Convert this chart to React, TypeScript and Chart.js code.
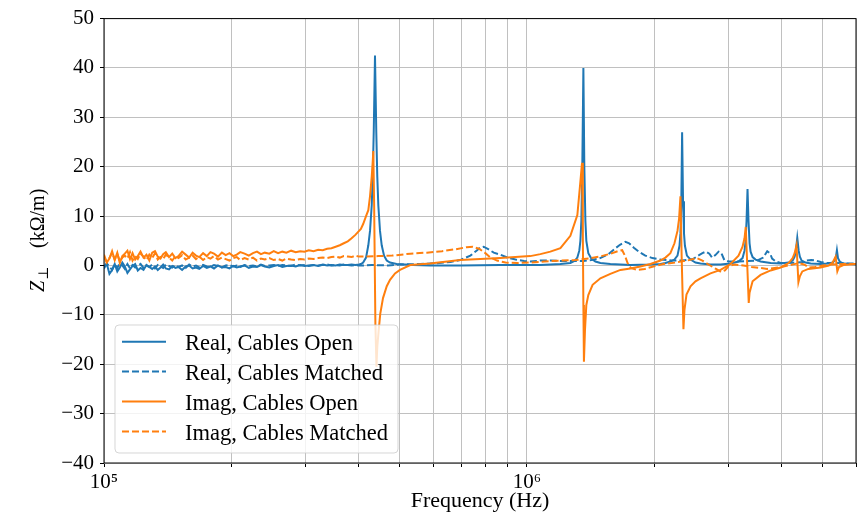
import React, { useEffect, useRef } from 'react';
import { Chart, registerables } from 'chart.js';

Chart.register(...registerables);

// ---------- data (frequency in kHz, impedance in kΩ/m) ----------
const lowFreqKHz = [
  100, 101.5, 103, 104.5, 106, 107.5, 109, 110.5, 112, 113.6,
  115.2, 116.8, 118.5, 120.2, 122, 124, 126, 128, 130, 132,
  134, 136, 138, 140, 142.5, 145, 147.5, 150, 153, 156,
  159, 162, 165, 168, 171.5, 175, 178.5, 182, 186, 190,
  194, 198, 202, 206, 210, 215, 220, 225, 230, 235,
  240, 246, 252, 258, 264, 270, 277, 284, 291, 298,
  305, 313, 321, 329, 337, 345, 353, 361, 369, 377,
  385, 393, 401,
];

const realOpenLow = [
  -0.6, 0.4, -1.7, -0.9, 0.3, -1.2, -0.4, 0.6, -0.2, -1.5,
  -0.8, -0.1, 0.3, -1.0, -0.5, -0.9, 0.1, -0.3, -0.7, -0.2,
  -0.9, -0.4, 0.2, -0.6, -0.8, -0.1, -0.5, -0.3, -0.9, -0.2,
  0.0, -0.6, -0.4, -0.7, -0.1, -0.5, -0.2, -0.6, 0.0, -0.4,
  -0.3, -0.6, -0.1, -0.4, -0.2, 0.0, -0.5, -0.2, -0.3, 0.1,
  -0.2, -0.4, -0.1, 0.1, -0.3, -0.1, 0.0, -0.2, 0.1, -0.1,
  0.0, 0.1, -0.1, 0.2, 0.0, 0.1, 0.0, 0.2, 0.1, 0.1,
  0.2, 0.1, 0.2,
];

const imagOpenLow = [
  2.2, 0.6, 1.4, 2.9, 1.1, 2.6, 0.5, 1.9, 2.4, 3.0,
  1.3, 2.5, 1.2, 1.9, 2.8, 1.6, 2.2, 1.0, 2.6, 2.9,
  1.8, 1.4, 2.3, 2.7, 1.7, 2.4, 1.5, 1.9, 2.8, 2.2,
  1.6, 2.6, 2.0, 1.7, 2.5, 1.9, 2.7, 2.4, 1.8, 2.6,
  2.1, 2.5, 1.9, 2.2, 2.7, 2.4, 2.0, 2.5, 2.8, 2.3,
  2.6, 2.4, 2.9, 2.5, 2.8, 2.6, 3.0, 2.7, 2.9, 2.8,
  3.1, 2.9, 3.2, 3.1, 3.4, 3.5, 3.8, 4.1, 4.5, 4.9,
  5.5, 6.2, 7.0,
];

const realMatchedLow = [
  -0.3, 0.4, -0.2, -0.9, 0.2, -0.5, 0.5, 0.0, -0.7, 0.3,
  -0.6, 0.1, -0.4, -0.1, 0.3, -0.5, 0.0, -0.3, 0.2, -0.6,
  0.1, -0.2, -0.5, 0.2, -0.1, -0.4, 0.1, -0.3, 0.0, -0.5,
  0.2, -0.2, 0.0, -0.4, 0.1, -0.2, -0.3, 0.1, -0.1, -0.4,
  0.0, 0.1, -0.2, 0.0, -0.3, 0.1, -0.1, 0.0, -0.2, 0.2,
  -0.1, 0.0, 0.1, -0.1, 0.1, 0.0, -0.1, 0.2, 0.0, 0.1,
  -0.1, 0.1, 0.0, 0.1, 0.2, 0.0, 0.1, 0.0, 0.2, 0.1,
  0.0, 0.1, 0.0,
];

const imagMatchedLow = [
  1.8, 0.7, 1.5, 2.6, 1.2, 2.3, 0.9, 1.6, 2.0, 1.4,
  2.7, 1.0, 1.9, 1.3, 2.4, 1.8, 1.1, 2.2, 1.5, 2.5,
  1.2, 1.7, 1.3, 2.2, 1.6, 1.0, 1.9, 1.5, 2.1, 1.2,
  1.6, 2.0, 1.3, 1.8, 1.1, 1.7, 1.4, 1.9, 1.2, 1.6,
  1.3, 1.0, 1.5, 1.7, 1.1, 1.5, 1.2, 1.6, 1.0, 1.4,
  1.2, 1.5, 1.1, 1.3, 1.0, 1.4, 1.2, 1.1, 1.3, 1.2,
  1.4, 1.3, 1.5, 1.6, 1.5, 1.7, 1.8, 1.6, 1.9, 1.8,
  1.7, 2.0, 1.8,
];

const realOpenHigh: [number, number][] = [
  [405, 0.3], [410, 0.6], [416.5, 1.6], [421.7, 4.1], [425.6, 7.0], [429.6, 12.2],
  [431.9, 18], [434.3, 27], [437.3, 42.5], [440.4, 27], [442.8, 18], [445.3, 12.2],
  [449.4, 7.0], [453.6, 4.1], [459.4, 2.0], [466.2, 1.0], [474.6, 0.6], [492, 0.3],
  [538, 0.1], [590, 0.0], [695, 0.0], [865, 0.1], [1076, 0.1], [1200, 0.3],
  [1267, 0.5], [1295, 0.9], [1316, 1.6], [1330, 3.0], [1338, 5.0], [1345, 9.0],
  [1352, 20], [1360, 40], [1367, 20], [1375, 9.0], [1382, 5.0], [1397, 2.5],
  [1420, 1.4], [1452, 0.8], [1492, 0.5], [1575, 0.3], [1757, 0.1], [1959, 0.2],
  [2069, 0.3], [2126, 0.5], [2184, 0.8], [2233, 1.2], [2270, 2.0], [2295, 4.0],
  [2307, 6.5], [2318, 13], [2328, 27], [2340, 13], [2352, 6.5], [2364, 4.0],
  [2390, 2.0], [2437, 1.2], [2504, 0.6], [2573, 0.4], [2717, 0.2], [2870, 0.2],
  [3030, 0.4], [3165, 0.8], [3235, 1.5], [3270, 3.0], [3288, 4.8], [3306, 9.0],
  [3324, 15.5], [3342, 9.0], [3361, 4.5], [3380, 2.8], [3417, 1.7], [3473, 1.2],
  [3569, 0.8], [3770, 0.5], [3981, 0.4], [4158, 0.6], [4250, 1.0], [4296, 1.8],
  [4325, 3.0], [4358, 5.6], [4391, 3.0], [4420, 1.8], [4463, 1.0], [4561, 0.6],
  [4688, 0.4], [4950, 0.3], [5171, 0.4], [5284, 0.6], [5342, 1.0], [5380, 1.8],
  [5408, 3.1], [5440, 1.5], [5490, 0.8], [5600, 0.4], [5826, 0.3], [6000, 0.2],
];

const imagOpenHigh: [number, number][] = [
  [405, 7.4], [410, 8.4], [416.5, 10.0], [421.7, 11.2], [425.6, 14.0], [429.6, 18.0],
  [431.9, 21.0], [433.3, 23.2], [435.3, 12], [438.3, -12], [440.8, -20.5], [442.8, -16.5],
  [446, -13.3], [450, -9.8], [456.8, -6.6], [466.2, -4.2], [474.6, -2.9], [487.7, -1.6],
  [501, -0.9], [530, 0.1], [590, 0.4], [695, 1.1], [865, 1.5], [1018, 1.9],
  [1076, 2.3], [1136, 2.8], [1200, 3.5], [1267, 6.0], [1316, 10.2], [1338, 17.0],
  [1350, 20.8], [1356, 6], [1360, -8], [1364, -19.5], [1372, -13], [1382, -8.0],
  [1397, -6.0], [1430, -3.9], [1492, -2.6], [1575, -1.7], [1664, -0.9], [1757, -0.6],
  [1855, -0.2], [1959, 0.3], [2069, 1.0], [2126, 1.6], [2184, 2.5], [2233, 4.5],
  [2270, 7.0], [2290, 9.5], [2307, 14.0], [2322, 2], [2345, -12.9], [2358, -9.0],
  [2384, -5.9], [2437, -4.2], [2504, -3.2], [2573, -2.6], [2717, -1.6], [2870, -0.9],
  [3030, 0.3], [3165, 2.0], [3235, 3.8], [3270, 5.5], [3292, 7.8], [3346, -7.6],
  [3361, -5.5], [3417, -3.2], [3569, -1.9], [3770, -1.0], [3981, -0.4], [4158, 0.5],
  [4250, 1.5], [4296, 2.5], [4340, 4.1], [4385, -3.4], [4420, -2.2], [4480, -1.2],
  [4630, -0.7], [4950, -0.4], [5171, 0.0], [5284, 0.6], [5370, 1.8], [5420, -1.2],
  [5470, -0.3], [5600, 0.1], [6000, 0.3],
];

const realMatchedHigh: [number, number][] = [
  [415, 0.0], [430, 0.1], [470, 0.0], [500, 0.2], [560, 0.3], [620, 0.5],
  [660, 0.7], [695, 1.1], [735, 2.0], [760, 3.0], [775, 3.6], [790, 3.8],
  [810, 3.3], [835, 2.6], [865, 2.2], [900, 1.6], [940, 1.2], [985, 0.9],
  [1018, 0.8], [1076, 1.0], [1136, 1.0], [1200, 0.9], [1270, 0.9], [1360, 0.9],
  [1420, 1.1], [1490, 1.5], [1560, 2.3], [1620, 3.5], [1660, 4.2], [1710, 4.8],
  [1745, 4.5], [1790, 3.6], [1840, 2.8], [1905, 2.0], [1980, 1.5], [2070, 1.2],
  [2200, 1.0], [2330, 1.0], [2470, 1.3], [2540, 2.0], [2600, 2.5], [2650, 2.8],
  [2700, 2.4], [2740, 1.6], [2790, 2.1], [2840, 2.8], [2880, 2.6], [2930, 1.1],
  [3000, 0.8], [3150, 0.8], [3330, 0.9], [3500, 1.0], [3620, 1.6], [3700, 2.9],
  [3760, 2.4], [3800, 1.4], [3880, 0.8], [3980, 0.5], [4150, 0.5], [4360, 0.6],
  [4500, 0.7], [4600, 1.0], [4700, 1.1], [4820, 1.0], [4950, 0.7], [5100, 0.5],
  [5400, 0.5], [5700, 0.4], [6000, 0.4],
];

const imagMatchedHigh: [number, number][] = [
  [415, 1.8], [445, 1.9], [480, 2.0], [530, 2.4], [580, 2.6], [630, 2.9],
  [680, 3.3], [720, 3.7], [745, 3.8], [770, 3.4], [795, 2.6], [820, 1.6],
  [850, 1.0], [890, 0.6], [950, 0.5], [1018, 0.6], [1100, 0.8], [1200, 1.0],
  [1300, 1.1], [1400, 1.4], [1500, 1.9], [1580, 2.4], [1640, 2.9], [1680, 3.1],
  [1705, 2.0], [1730, 0.5], [1760, -0.5], [1820, -0.9], [1900, -0.7], [1990, -0.2],
  [2100, 0.3], [2250, 0.6], [2420, 1.1], [2520, 1.5], [2600, 1.0], [2700, 0.1],
  [2800, -0.7], [2880, -1.3], [2940, -1.0], [3000, -0.1], [3100, 0.2], [3250, 0.0],
  [3400, -0.3], [3560, -0.5], [3700, -0.7], [3850, -0.5], [4000, -0.3], [4200, 0.1],
  [4400, 0.5], [4520, 0.2], [4650, -0.4], [4800, -0.3], [5000, 0.0], [5300, 0.2],
  [5600, 0.3], [6000, 0.3],
];

const seriesLabels = [
  'Real, Cables Open',
  'Real, Cables Matched',
  'Imag, Cables Open',
  'Imag, Cables Matched',
];

const xTickValues = [
  1e5, 2e5, 3e5, 4e5, 5e5, 6e5, 7e5, 8e5, 9e5,
  1e6, 2e6, 3e6, 4e6, 5e6, 6e6,
];
const xTickLabels: Record<number, string> = { 100000: '10\u2075', 1000000: '10\u2076' };
const yTickValues = [-40, -30, -20, -10, 0, 10, 20, 30, 40, 50];

const BLUE = '#1f77b4';
const ORANGE = '#ff7f0e';
const FONT = "'Liberation Serif', 'DejaVu Serif', serif";

function buildPoints(low: number[], high: [number, number][]) {
  const pts = lowFreqKHz.map((f, i) => ({ x: f * 1000, y: low[i] }));
  return pts.concat(high.map(([f, v]) => ({ x: f * 1000, y: v })));
}

const framePlugin = {
  id: 'frameAndLegend',
  afterDraw(chart: any) {
    const { ctx, chartArea } = chart;
    const { left, top, right, bottom } = chartArea;
    ctx.save();
    // frame
    ctx.strokeStyle = '#000';
    ctx.lineWidth = 1;
    ctx.strokeRect(left, top, right - left, bottom - top);

    // y-axis title with subscript
    ctx.fillStyle = '#000';
    ctx.translate(44, 292);
    ctx.rotate(-Math.PI / 2);
    ctx.textBaseline = 'alphabetic';
    ctx.textAlign = 'left';
    ctx.font = `italic 20px ${FONT}`;
    ctx.fillText('Z', 0, 0);
    const wz = ctx.measureText('Z').width;
    ctx.font = `14px 'DejaVu Serif', serif`;
    ctx.fillText('\u22A5', wz + 1, 4);
    ctx.font = `20px ${FONT}`;
    ctx.fillText('(k\u03A9/m)', 44, 0);
    ctx.restore();

    // legend
    ctx.save();
    const lx = 115, ly = 325, lw = 283, lh = 128, r = 4;
    ctx.beginPath();
    ctx.moveTo(lx + r, ly);
    ctx.lineTo(lx + lw - r, ly);
    ctx.arcTo(lx + lw, ly, lx + lw, ly + r, r);
    ctx.lineTo(lx + lw, ly + lh - r);
    ctx.arcTo(lx + lw, ly + lh, lx + lw - r, ly + lh, r);
    ctx.lineTo(lx + r, ly + lh);
    ctx.arcTo(lx, ly + lh, lx, ly + lh - r, r);
    ctx.lineTo(lx, ly + r);
    ctx.arcTo(lx, ly, lx + r, ly, r);
    ctx.closePath();
    ctx.fillStyle = 'rgba(255,255,255,0.8)';
    ctx.fill();
    ctx.strokeStyle = 'rgba(204,204,204,0.8)';
    ctx.lineWidth = 1;
    ctx.stroke();

    const rows = [341.7, 371.5, 401.5, 431.5];
    chart.data.datasets.forEach((ds: any, i: number) => {
      const y = rows[i];
      ctx.beginPath();
      ctx.setLineDash(ds.borderDash || []);
      ctx.strokeStyle = ds.borderColor;
      ctx.lineWidth = ds.borderWidth;
      ctx.moveTo(122, y);
      ctx.lineTo(166, y);
      ctx.stroke();
      ctx.setLineDash([]);
      ctx.fillStyle = '#000';
      ctx.font = `22.5px ${FONT}`;
      ctx.textAlign = 'left';
      ctx.textBaseline = 'alphabetic';
      ctx.fillText(ds.label, 185, y + 8);
    });
    ctx.restore();
  },
};

export default function App() {
  const canvasRef = useRef<HTMLCanvasElement | null>(null);

  useEffect(() => {
    if (!canvasRef.current) return;
    const lows = [realOpenLow, realMatchedLow, imagOpenLow, imagMatchedLow];
    const highs = [realOpenHigh, realMatchedHigh, imagOpenHigh, imagMatchedHigh];
    const colors = [BLUE, BLUE, ORANGE, ORANGE];
    const dashed = [false, true, false, true];
    const order = [3, 2, 1, 0];

    const datasets = seriesLabels.map((label, i) => ({
      label,
      data: buildPoints(lows[i], highs[i]),
      borderColor: colors[i],
      backgroundColor: colors[i],
      borderWidth: 2,
      borderDash: dashed[i] ? [7, 3] : [],
      pointRadius: 0,
      showLine: true,
      tension: 0,
      fill: false,
      order: order[i],
    }));

    const gridColor = '#c0c0c0';
    const chart = new Chart(canvasRef.current, {
      type: 'scatter',
      data: { datasets },
      options: {
        animation: false,
        responsive: false,
        devicePixelRatio: 1,
        layout: { padding: { top: 15, right: 5, left: 0, bottom: 0 } },
        plugins: {
          legend: { display: false },
          tooltip: { enabled: false },
        },
        scales: {
          x: {
            type: 'logarithmic',
            min: 1e5,
            max: 6e6,
            afterBuildTicks: (scale: any) => {
              scale.ticks = xTickValues.map((v) => ({ value: v }));
            },
            afterFit: (scale: any) => {
              scale.height = 57;
            },
            ticks: {
              autoSkip: false,
              maxRotation: 0,
              minRotation: 0,
              padding: 3,
              color: '#000',
              font: { family: FONT, size: 21 },
              callback: (v: any) => xTickLabels[Number(v)] ?? '',
            },
            grid: {
              color: gridColor,
              lineWidth: 1,
              drawTicks: true,
              tickLength: 4,
              tickColor: '#000',
              tickWidth: 1,
            },
            border: { display: false },
            title: {
              display: true,
              text: 'Frequency (Hz)',
              color: '#000',
              font: { family: FONT, size: 22 },
              padding: { top: 0, bottom: 6 },
            },
          },
          y: {
            type: 'linear',
            min: -40,
            max: 50,
            afterBuildTicks: (scale: any) => {
              scale.ticks = yTickValues.map((v) => ({ value: v }));
            },
            afterFit: (scale: any) => {
              scale.width = 104;
            },
            ticks: {
              padding: 6,
              color: '#000',
              font: { family: FONT, size: 21 },
              callback: (v: any) => String(v).replace('-', '\u2212'),
            },
            grid: {
              color: gridColor,
              lineWidth: 1,
              drawTicks: true,
              tickLength: 4,
              tickColor: '#000',
              tickWidth: 1,
            },
            border: { display: false },
          },
        },
      },
      plugins: [framePlugin],
    } as any);

    return () => chart.destroy();
  }, []);

  return (
    <div style={{ position: 'absolute', left: 0, top: 0, width: 861, height: 520, background: '#fff' }}>
      <canvas ref={canvasRef} width={861} height={520} style={{ width: 861, height: 520 }} />
    </div>
  );
}
